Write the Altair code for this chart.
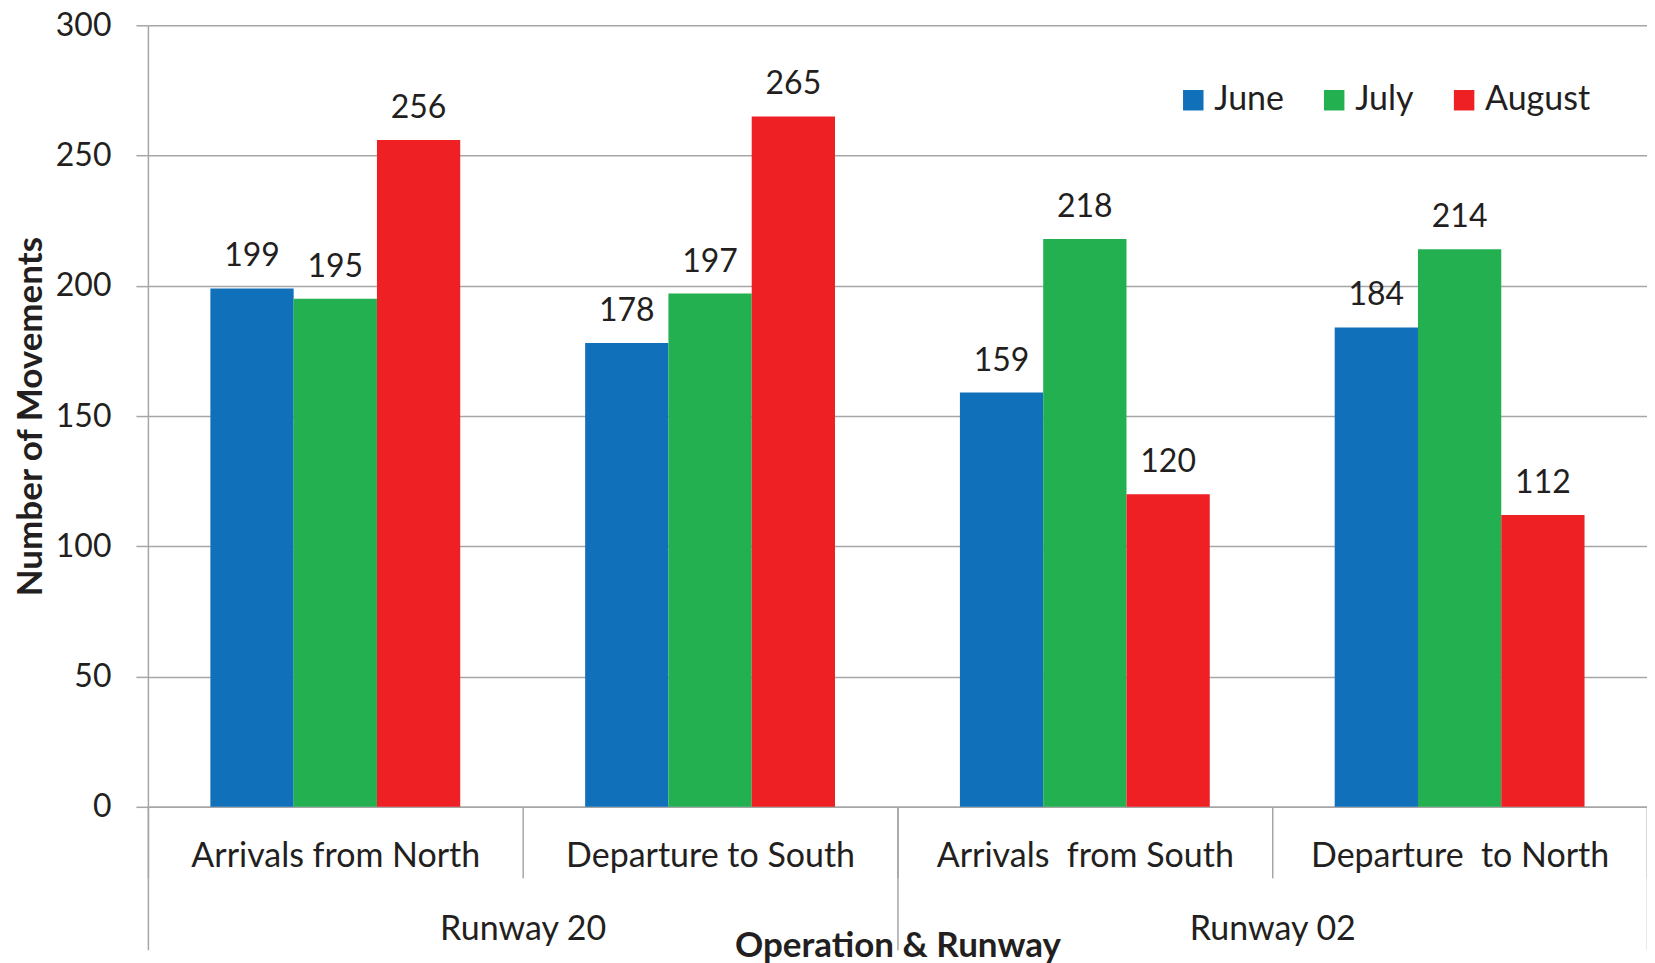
import altair as alt
import pandas as pd

operations = ["Arrivals from North", "Departure to South",
              "Arrivals\u00a0 from South", "Departure\u00a0 to North"]
runway_of_op = ["Runway 20", "Runway 20", "Runway 02", "Runway 02"]
runways = ["Runway 20", "Runway 02"]
months = ["June", "July", "August"]
june = [199, 178, 159, 184]
july = [195, 197, 218, 214]
august = [256, 265, 120, 112]
colors = ["#1170ba", "#22b050", "#ee2024"]

rows = []
for i, op in enumerate(operations):
    for m, vals in zip(months, [june, july, august]):
        rows.append({"Operation": op, "Runway": runway_of_op[i], "Month": m, "Value": vals[i]})
df = pd.DataFrame(rows)

FONT = "Lato"
GRID = "#a6a6a6"
TXT = "#231f20"

x_op = alt.X(
    "Operation:N", sort=operations,
    scale=alt.Scale(paddingInner=0, paddingOuter=0),
    axis=alt.Axis(
        title=None, labelAngle=0, labelFont=FONT, labelFontSize=34, labelColor=TXT,
        labelBaseline="alphabetic", labelPadding=-11, labelLimit=500,
        tickBand="extent", tickSize=71, tickColor=GRID, tickWidth=1.5,
        domainColor=GRID, domainWidth=1.5, grid=False,
    ),
)
y_val = alt.Y(
    "Value:Q",
    scale=alt.Scale(domain=[0, 300], nice=False),
    axis=alt.Axis(
        title="Number of Movements", values=[0, 50, 100, 150, 200, 250, 300],
        labelFont=FONT, labelFontSize=32, labelColor=TXT, labelPadding=25,
        tickSize=12, tickColor=GRID, tickWidth=1.5,
        domainColor=GRID, domainWidth=1.5,
        grid=True, gridColor=GRID, gridWidth=1.5,
        titleFont=FONT, titleFontSize=35, titleFontWeight="bold", titleColor=TXT,
        titleAngle=270, titleX=-117, titleY=391, titleAlign="center", titleBaseline="middle",
    ),
)
xoff = alt.XOffset("Month:N", sort=months,
                   scale=alt.Scale(paddingInner=0, paddingOuter=0.75))

bars = alt.Chart(df).mark_bar().encode(
    x=x_op, xOffset=xoff, y=y_val,
    color=alt.Color(
        "Month:N", sort=months, scale=alt.Scale(domain=months, range=colors),
        legend=alt.Legend(
            title=None, orient="none", legendX=1029, legendY=58, direction="horizontal",
            symbolType="square", symbolSize=420, symbolStrokeWidth=0, symbolOpacity=1,
            labelFont=FONT, labelFontSize=34, labelColor=TXT, labelOffset=4,
            columnPadding=33, padding=0,
        ),
    ),
)
labels = alt.Chart(df).mark_text(
    font=FONT, fontSize=32, color=TXT, baseline="alphabetic", dy=-22
).encode(x=x_op, xOffset=xoff, y=y_val, text="Value:Q")

runway_layer = alt.Chart(df).mark_point(opacity=0).encode(
    x=alt.X(
        "Runway:N", sort=runways,
        scale=alt.Scale(paddingInner=0, paddingOuter=0),
        axis=alt.Axis(
            orient="bottom", title="Operation & Runway", labelAngle=0,
            labelFont=FONT, labelFontSize=34, labelColor=TXT,
            labelBaseline="alphabetic", labelPadding=-10, labelLimit=500,
            tickBand="extent", tickSize=143, tickColor=GRID, tickWidth=1.5,
            domain=False, grid=False,
            titleFont=FONT, titleFontSize=35, titleFontWeight="bold", titleColor=TXT,
            titleX=750, titleY=150, titleAlign="center", titleBaseline="alphabetic",
        ),
    )
)

chart = alt.layer(alt.layer(bars, labels), runway_layer).resolve_scale(
    x="independent"
).properties(
    width=1500, height=782,
    autosize=alt.AutoSizeParams(type="none"),
    padding={"left": 140, "top": 17, "right": 0, "bottom": 165},
).configure_view(stroke=None)

chart.save("out.html", embed_options={"renderer": "svg", "actions": False})
